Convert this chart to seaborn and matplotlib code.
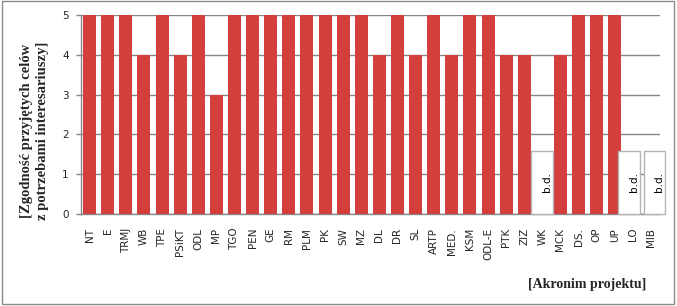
import numpy as np
import pandas as pd
import matplotlib
matplotlib.use("Agg")
import matplotlib.pyplot as plt
import seaborn as sns
from matplotlib.patches import Rectangle

projects = ["NT", "E", "TRMJ", "WB", "TPE", "PSiKT", "ODL", "MP", "TGO", "PEN", "GE",
            "RM", "PLM", "PK", "SW", "MZ", "DL", "DR", "SL", "ARTP", "MED.", "KSM",
            "ODL-E", "PTK", "ZIZ", "WK", "MCK", "DS.", "OP", "UP", "LO", "MIB"]
scores = [5, 5, 5, 4, 5, 4, 5, 3, 5, 5, 5,
          5, 5, 5, 5, 5, 4, 5, 4, 5, 4, 5,
          5, 4, 4, np.nan, 4, 5, 5, 5, np.nan, np.nan]
missing_label = "b.d."
ylabel_text = "[Zgodność przyjętych celów\nz potrzebami interesariuszy]"
xlabel_text = "[Akronim projektu]"
yticks = [0, 1, 2, 3, 4, 5]

df = pd.DataFrame({"proj": projects, "score": scores})

sns.set_style("white")
plt.rcParams["font.family"] = ["DejaVu Sans"]

fig = plt.figure(figsize=(6.77, 3.06), dpi=100)
ax = fig.add_axes([0.119, 0.301, 0.856, 0.650])

bar_color = "#d33f3c"
grid_color = "#868686"

sns.barplot(data=df, x="proj", y="score", color=bar_color, width=0.72,
            saturation=1, linewidth=0, ax=ax, zorder=3)

# "b.d." boxes for missing data (text boxes placed by hand in the original)
miss_idx = [i for i, v in enumerate(scores) if pd.isna(v)]
box_shift = {25: 0.0, 30: -0.2, 31: 0.19}
box_x = [i + box_shift.get(i, 0.0) for i in miss_idx]
ax.bar(box_x, [1.58] * len(miss_idx), width=1.2, color="white",
       edgecolor="#b4b4b4", linewidth=1.0, zorder=4, clip_on=False)
for x in box_x:
    ax.text(x + 0.25, 0.8, missing_label, rotation=90, ha="center", va="center",
            fontsize=7.5, color="black", zorder=5)

ax.set_xlim(-0.5, len(projects) - 0.5)
ax.set_ylim(0, 5)
ax.set_yticks(yticks)
ax.yaxis.grid(True, color=grid_color, linewidth=1.0, zorder=0)
ax.set_axisbelow(True)

ax.set_xticks(range(len(projects)))
ax.set_xticklabels(projects, rotation=90, fontsize=7.5)
ax.set_xticks(np.arange(-0.5, len(projects), 1.0), minor=True)
ax.tick_params(axis="x", which="major", length=0, pad=10)
ax.tick_params(axis="x", which="minor", length=4, color=grid_color, width=1)
ax.tick_params(axis="y", which="major", length=3.6, color=grid_color, width=1,
               labelsize=7.5, pad=5, left=True)
ax.set_xlabel("")
ax.set_ylabel("")

for s in ["top", "right"]:
    ax.spines[s].set_visible(False)
for s in ["left", "bottom"]:
    ax.spines[s].set_color(grid_color)
    ax.spines[s].set_linewidth(1.0)

fig.text(0.051, 0.572, ylabel_text, rotation=90, ha="center", va="center",
         multialignment="center", fontsize=10.5, fontweight="bold",
         family=["Liberation Serif", "DejaVu Serif"], linespacing=1.3)
fig.text(0.867, 0.069, xlabel_text, ha="center", va="center",
         fontsize=10, fontweight="bold",
         family=["Liberation Serif", "DejaVu Serif"])

fig.patches.append(Rectangle((0.003, 0.006), 0.993, 0.991, transform=fig.transFigure,
                             fill=False, edgecolor="#8a8a8a", linewidth=1.0))

fig.savefig("out.png", dpi=100)
